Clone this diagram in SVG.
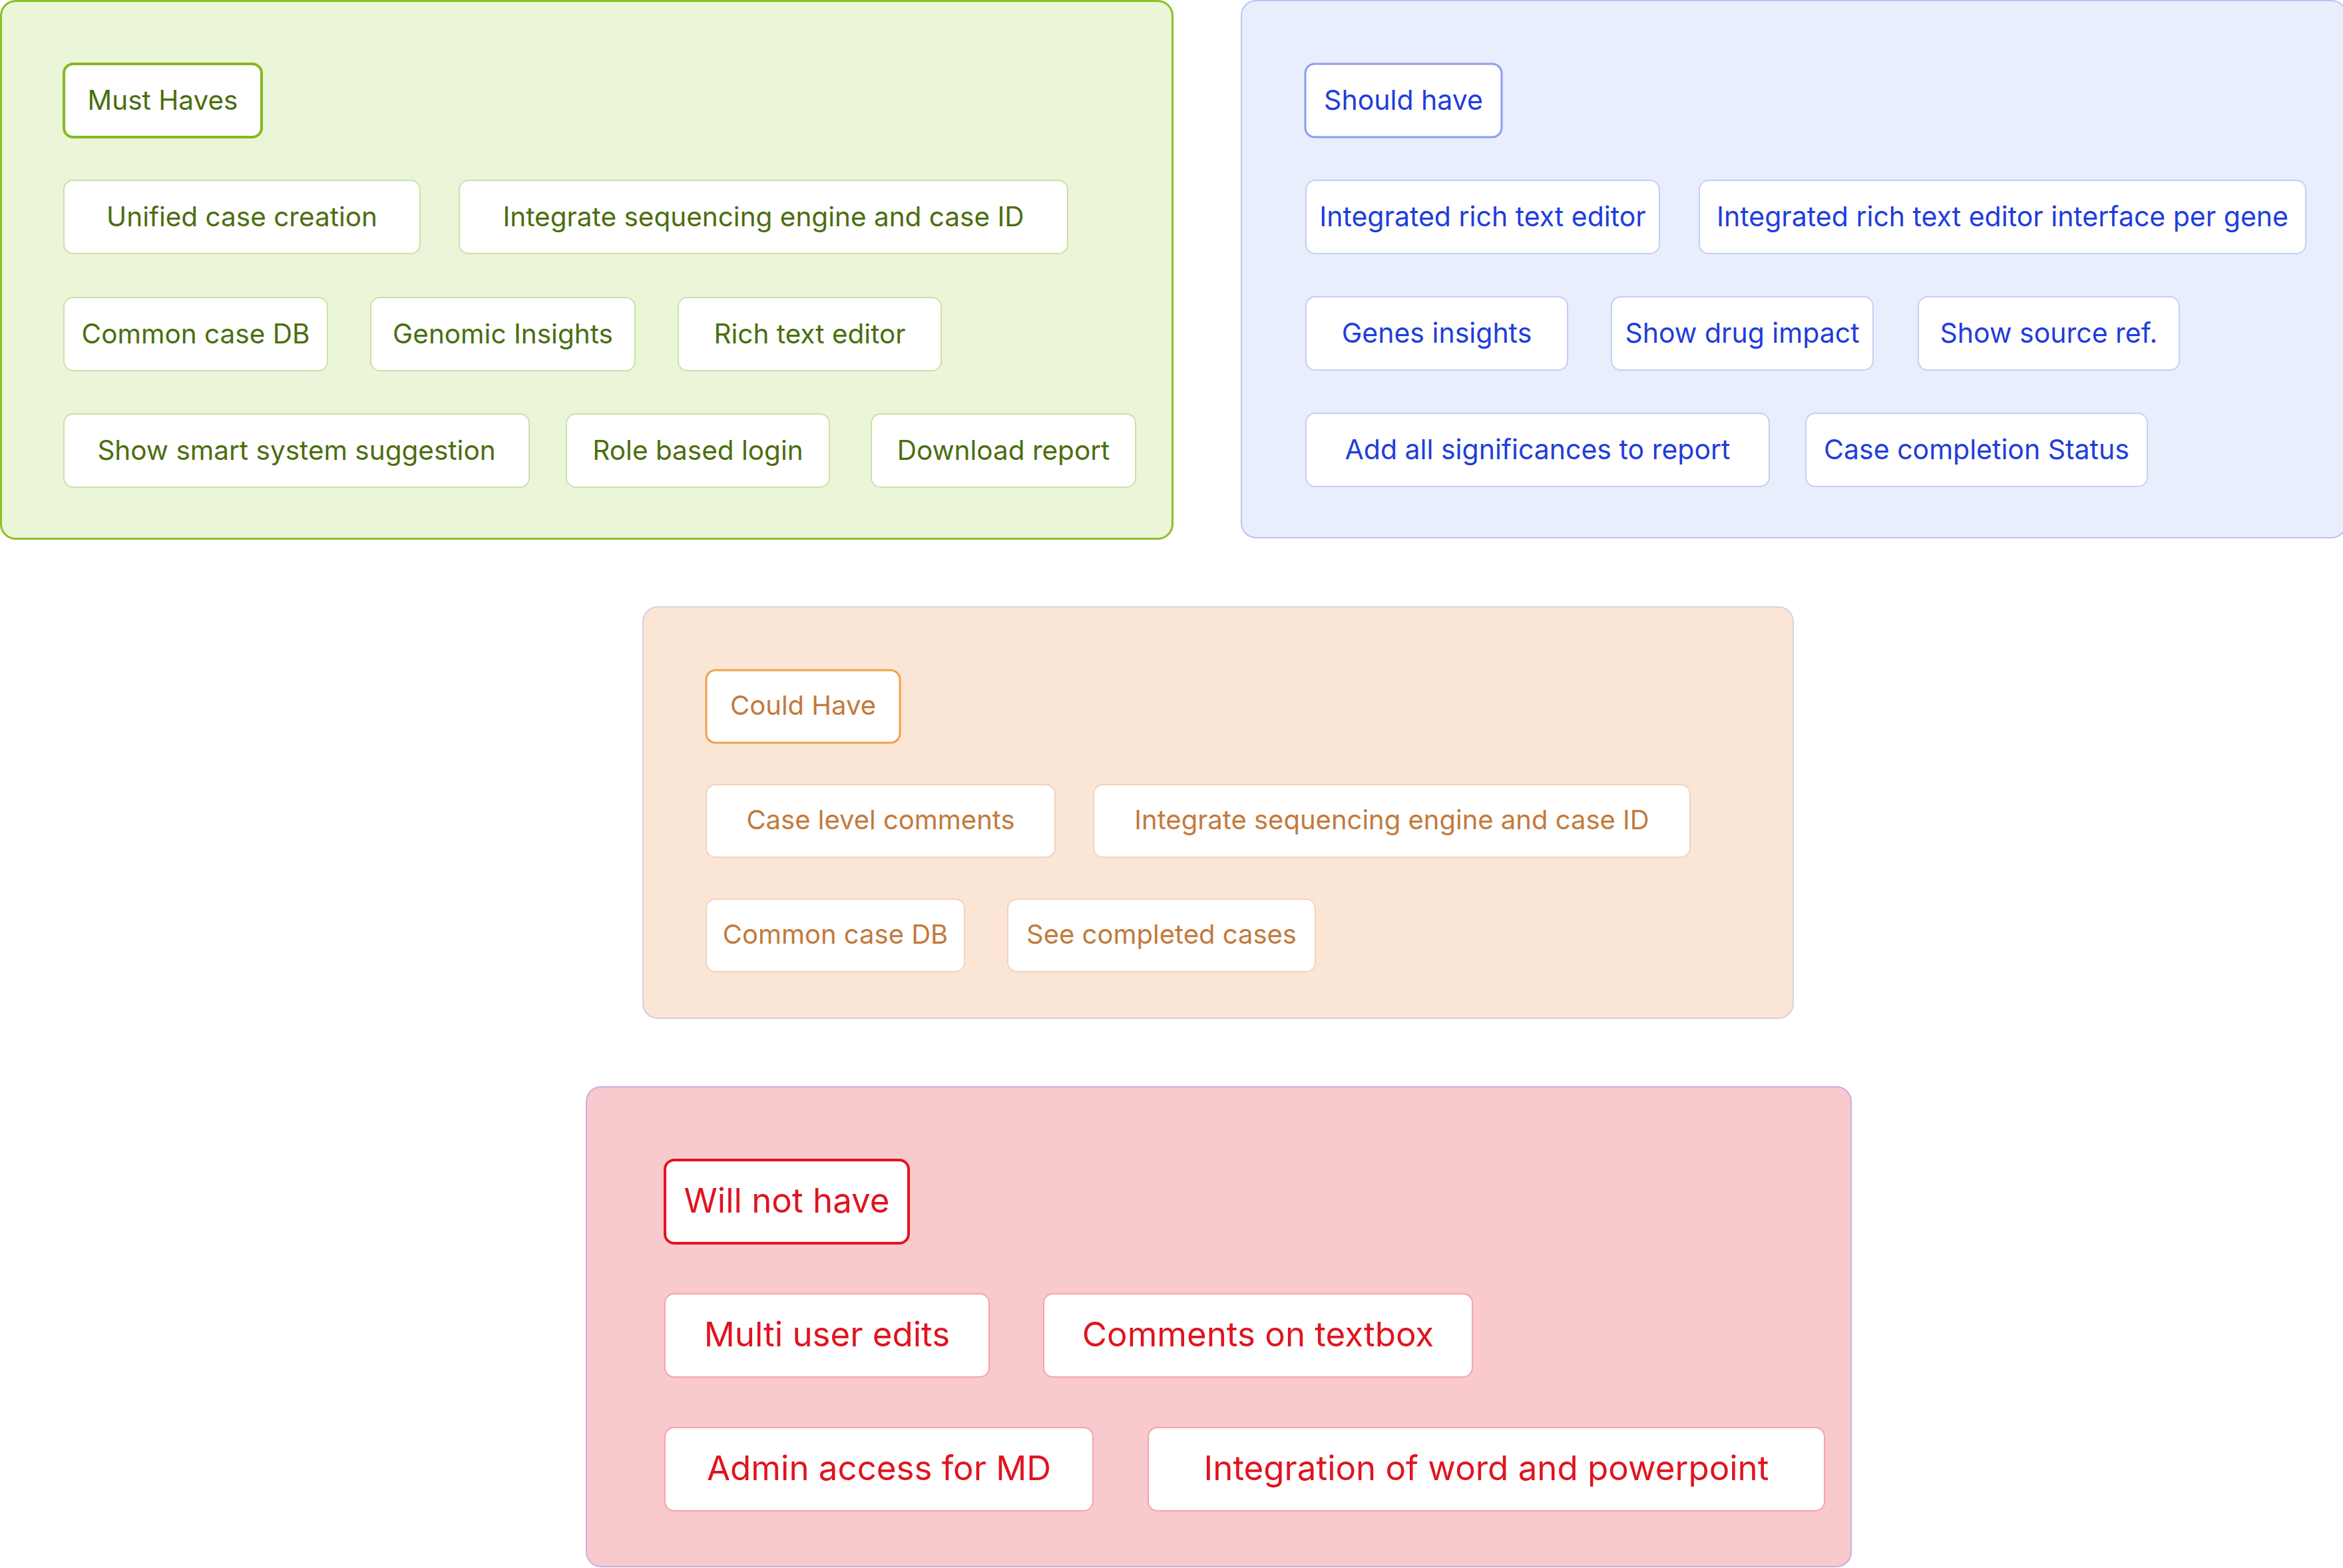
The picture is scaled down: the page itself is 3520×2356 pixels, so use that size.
<svg xmlns="http://www.w3.org/2000/svg" width="3520" height="2356" viewBox="0 0 3520 2356">
<style>
text{font-family:Inter,"Noto Sans","Liberation Sans",sans-serif;text-anchor:middle;dominant-baseline:central}
.g text{fill:#4b6e10;font-size:40.5px}
.b text{fill:#1f3ddb;font-size:41px}
.o text{fill:#c27a3c;font-size:40px}
.r text{fill:#e0141f;font-size:51px}
.gn{fill:#fff;stroke:#cde0a8;stroke-width:2}
.bn{fill:#fff;stroke:#c3cff5;stroke-width:2}
.on{fill:#fff;stroke:#f2d2bf;stroke-width:2}
.rn{fill:#fff;stroke:#f4a3ab;stroke-width:2}
</style>
<rect width="3520" height="2356" fill="#fff"/>
<!-- panels -->
<rect id="panel-must" x="1.5" y="1.5" width="1760" height="808" rx="22" fill="#ebf5d8" stroke="#8cbf26" stroke-width="3"/>
<rect id="panel-should" x="1865" y="1" width="1660" height="807" rx="22" fill="#e8eefc" stroke="#b8c6f4" stroke-width="2"/>
<rect id="panel-could" x="966" y="912" width="1728" height="618" rx="22" fill="#fbe6d5" stroke="#d9cde6" stroke-width="2"/>
<rect id="panel-wont" x="881" y="1633" width="1900" height="721" rx="22" fill="#f8c9cd" stroke="#c9aee0" stroke-width="2"/>
<g id="connectors"></g>
<g class="g">
<g id="must-haves"><rect x="96" y="96" width="297" height="110" rx="14" fill="#fff" stroke="#86b81e" stroke-width="4"/><text x="244.5" y="150">Must Haves</text></g>
<g id="g-unified"><rect class="gn" x="96" y="271" width="535" height="110" rx="14"/><text x="363.5" y="325">Unified case creation</text></g>
<g id="g-integrate"><rect class="gn" x="690" y="271" width="914" height="110" rx="14"/><text x="1147" y="325">Integrate sequencing engine and case ID</text></g>
<g id="g-commondb"><rect class="gn" x="96" y="447" width="396" height="110" rx="14"/><text x="294" y="501">Common case DB</text></g>
<g id="g-genomic"><rect class="gn" x="557" y="447" width="397" height="110" rx="14"/><text x="755.5" y="501">Genomic Insights</text></g>
<g id="g-richtext"><rect class="gn" x="1019" y="447" width="395" height="110" rx="14"/><text x="1216.5" y="501">Rich text editor</text></g>
<g id="g-smart"><rect class="gn" x="96" y="622" width="699" height="110" rx="14"/><text x="445.5" y="676">Show smart system suggestion</text></g>
<g id="g-role"><rect class="gn" x="851" y="622" width="395" height="110" rx="14"/><text x="1048.5" y="676">Role based login</text></g>
<g id="g-download"><rect class="gn" x="1309" y="622" width="397" height="110" rx="14"/><text x="1507.5" y="676">Download report</text></g>
</g>
<g class="b">
<g id="should-have"><rect x="1961" y="96" width="295" height="110" rx="14" fill="#fff" stroke="#8c9ef0" stroke-width="3"/><text x="2108.5" y="150">Should have</text></g>
<g id="b-rte"><rect class="bn" x="1962" y="271" width="531" height="110" rx="14"/><text x="2227.5" y="325">Integrated rich text editor</text></g>
<g id="b-rte-gene"><rect class="bn" x="2553" y="271" width="911" height="110" rx="14"/><text x="3008.5" y="325">Integrated rich text editor interface per gene</text></g>
<g id="b-genes"><rect class="bn" x="1962" y="446" width="393" height="110" rx="14"/><text x="2158.5" y="500">Genes insights</text></g>
<g id="b-drug"><rect class="bn" x="2421" y="446" width="393" height="110" rx="14"/><text x="2617.5" y="500">Show drug impact</text></g>
<g id="b-source"><rect class="bn" x="2882" y="446" width="392" height="110" rx="14"/><text x="3078" y="500">Show source ref.</text></g>
<g id="b-signif"><rect class="bn" x="1962" y="621" width="696" height="110" rx="14"/><text x="2310" y="675">Add all significances to report</text></g>
<g id="b-status"><rect class="bn" x="2713" y="621" width="513" height="110" rx="14"/><text x="2969.5" y="675">Case completion Status</text></g>
</g>
<g class="o">
<g id="could-have"><rect x="1061" y="1007" width="291" height="109" rx="14" fill="#fff" stroke="#f0a04c" stroke-width="3"/><text x="1206.5" y="1059.5">Could Have</text></g>
<g id="o-comments"><rect class="on" x="1061" y="1179" width="524" height="109" rx="14"/><text x="1323" y="1231.5">Case level comments</text></g>
<g id="o-integrate"><rect class="on" x="1643" y="1179" width="896" height="109" rx="14"/><text x="2091" y="1231.5">Integrate sequencing engine and case ID</text></g>
<g id="o-commondb"><rect class="on" x="1061" y="1351" width="388" height="109" rx="14"/><text x="1255" y="1403.5">Common case DB</text></g>
<g id="o-completed"><rect class="on" x="1514" y="1351" width="462" height="109" rx="14"/><text x="1745" y="1403.5">See completed cases</text></g>
</g>
<g class="r">
<g id="will-not-have"><rect x="999" y="1743" width="366" height="125" rx="14" fill="#fff" stroke="#e4121f" stroke-width="4"/><text x="1182" y="1803">Will not have</text></g>
<g id="r-multi"><rect class="rn" x="999" y="1944" width="487" height="125" rx="14"/><text x="1242.5" y="2004">Multi user edits</text></g>
<g id="r-comments"><rect class="rn" x="1568" y="1944" width="644" height="125" rx="14"/><text x="1890" y="2004">Comments on textbox</text></g>
<g id="r-admin"><rect class="rn" x="999" y="2145" width="643" height="125" rx="14"/><text x="1320.5" y="2205">Admin access for MD</text></g>
<g id="r-integration"><rect class="rn" x="1725" y="2145" width="1016" height="125" rx="14"/><text x="2233" y="2205">Integration of word and powerpoint</text></g>
</g>
</svg>
